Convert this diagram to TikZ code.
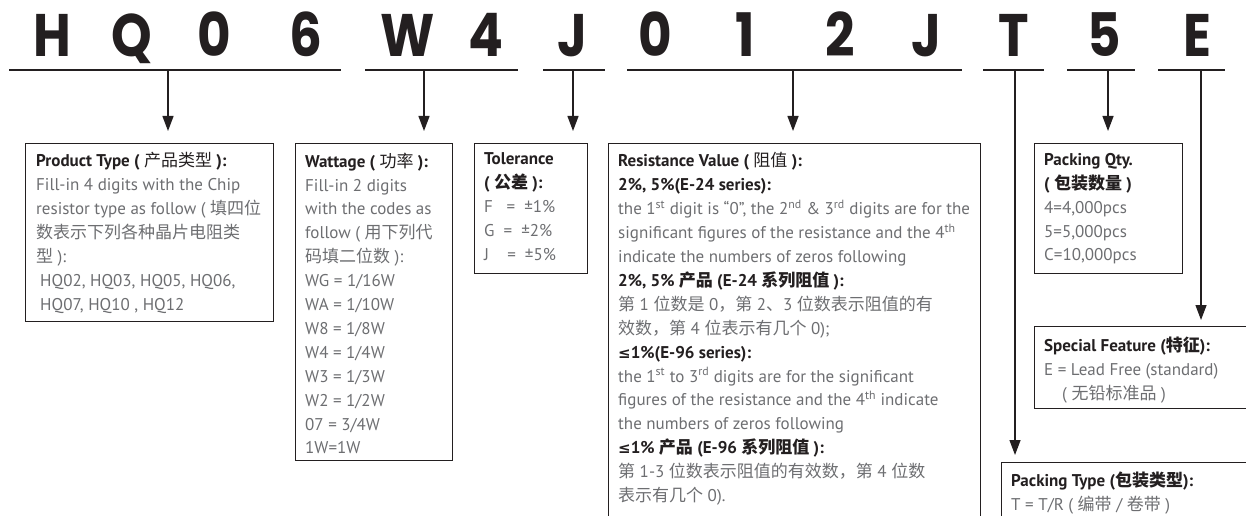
\documentclass[tikz,border=0pt]{standalone}
\usepackage{fontspec}
\setmainfont{PT Sans}
\newfontfamily\cjk{Noto Sans CJK SC}
\newfontfamily\symf{DejaVu Sans}
\newfontfamily\bigfont{Poppins}
\usetikzlibrary{arrows.meta,calc}
\definecolor{ink}{HTML}{231F20}
\definecolor{bodygray}{HTML}{6D6E71}
\newcommand\hdr[1]{{\color{ink}\bfseries #1}}
\newcommand\zh[1]{{\cjk #1}}
\newcommand\zhl[1]{{\cjk\mdseries #1}}
\newcommand\lesym{{\symf\fontsize{15}{15}\selectfont ≤}}
\newcommand\sups[1]{\textsuperscript{#1}}
\begin{document}
\begin{tikzpicture}[x=1pt,y=-1pt,
  boxnode/.style={draw=ink, line width=1.2pt, inner sep=0, anchor=north west},
  txt/.style={anchor=north west, inner sep=0, align=left, font=\fontsize{17}{23.9}\selectfont, text=bodygray},
  bigch/.style={font=\bigfont\bfseries\fontsize{60}{60}\selectfont, text=ink, anchor=base, inner sep=0, xscale=0.86, transform shape},
  uline/.style={line width=2pt, draw=ink},
  arr/.style={line width=1.3pt, draw=ink, -{Triangle[length=15pt,width=11pt]}}]
\useasboundingbox (0,0) rectangle (1246,516);
% big characters
\foreach \c/\x [count=\i] in {H/52,Q/132,0/214,6/306,W/408,4/486,J/572,0/655,1/745,2/840,J/926,T/1014,5/1104,E/1197}
  \node[bigch] (L\i) at (\x,57) {\c};
% underlines
\coordinate (u1a) at (9,70);    \coordinate (u1b) at (341,70);  \coordinate (u1) at (168,70);
\coordinate (u2a) at (365,70);  \coordinate (u2b) at (518,70);  \coordinate (u2) at (424,70);
\coordinate (u3a) at (543,70);  \coordinate (u3b) at (605,70);  \coordinate (u3) at (573,70);
\coordinate (u4a) at (627,70);  \coordinate (u4b) at (962,70);  \coordinate (u4) at (793,70);
\coordinate (u5a) at (983,70);  \coordinate (u5b) at (1044,70); \coordinate (u5) at (1015,70);
\coordinate (u6a) at (1067,70); \coordinate (u6b) at (1135,70); \coordinate (u6) at (1108,70);
\coordinate (u7a) at (1158,70); \coordinate (u7b) at (1225,70); \coordinate (u7) at (1201,70);
\foreach \i in {1,...,7} \draw[uline] (u\i a) -- (u\i b);
% boxes
\node[boxnode, minimum width=248, minimum height=178] (pt) at (25,143) {};
\node[boxnode, minimum width=157, minimum height=317] (wt) at (295,143) {};
\node[boxnode, minimum width=113, minimum height=130] (tol) at (474,143) {};
\node[boxnode, minimum width=372, minimum height=385] (rv) at (608,143) {};
\node[boxnode, minimum width=148, minimum height=130] (pq) at (1034,143) {};
\node[boxnode, minimum width=225, minimum height=82] (sf) at (1034,326) {};
\node[boxnode, minimum width=255, minimum height=65] (ptp) at (1001,462) {};
% arrows
\draw[arr] (u1) -- ($(u1 |- pt.north)+(0,-12)$);
\draw[arr] (u2) -- ($(u2 |- wt.north)+(0,-12)$);
\draw[arr] (u3) -- ($(u3 |- tol.north)+(0,-12)$);
\draw[arr] (u4) -- ($(u4 |- rv.north)+(0,-12)$);
\draw[arr] (u6) -- ($(u6 |- pq.north)+(0,-12)$);
\draw[arr] (u7) -- ($(u7 |- sf.north)+(0,-6)$);
\draw[arr] (u5) -- ($(u5 |- ptp.north)+(0,-7)$);
% texts
\node[txt] (ptT) at (36,152.5) {\hdr{Product Type ( \zhl{产品类型} ):}\\
Fill-in 4 digits with the Chip\\
resistor type as follow ( \zh{填四位}\\
\zh{数表示下列各种晶片电阻类}\\
\zh{型} ):\\
\hspace*{4pt}HQ02, HQ03, HQ05, HQ06,\\
\hspace*{4pt}HQ07, HQ10 , HQ12};
\node[txt] (wtT) at (305,152.5) {\hdr{Wattage ( \zhl{功率} ):}\\
Fill-in 2 digits\\
with the codes as\\
follow ( \zh{用下列代}\\
\zh{码填二位数} ):\\
WG = 1/16W\\
WA = 1/10W\\
W8 = 1/8W\\
W4 = 1/4W\\
W3 = 1/3W\\
W2 = 1/2W\\
07 = 3/4W\\
1W=1W};
\node[txt] (tolT) at (484,152.5) {\hdr{Tolerance}\\
\hdr{( \zh{公差} ):}\\
F\ \ \ =\ \ ±1\%\\
G\ \ =\ \ ±2\%\\
J\ \ \ \ =\ \ ±5\%};
\node[txt] (rvT) at (618,152.5) {\hdr{Resistance Value ( \zhl{阻值} ):}\\
\hdr{2\%, 5\%(E-24 series):}\\
the 1\sups{st} digit is “0”, the 2\sups{nd} \& 3\sups{rd} digits are for the\\
significant figures of the resistance and the 4\sups{th}\\
indicate the numbers of zeros following\\
\hdr{2\%, 5\% \zh{产品} (E-24 \zh{系列阻值} ):}\\
\zh{第} 1 \zh{位数是} 0\zh{，第} 2\zh{、}3 \zh{位数表示阻值的有}\\
\zh{效数，第} 4 \zh{位表示有几个} 0);\\
\hdr{\lesym 1\%(E-96 series):}\\
the 1\sups{st} to 3\sups{rd} digits are for the significant\\
figures of the resistance and the 4\sups{th} indicate\\
the numbers of zeros following\\
\hdr{\lesym 1\% \zh{产品} (E-96 \zh{系列阻值} ):}\\
\zh{第} 1-3 \zh{位数表示阻值的有效数，第} 4 \zh{位数}\\
\zh{表示有几个} 0).};
\node[txt] (pqT) at (1044,153) {\hdr{Packing Qty.}\\
\hdr{( \zh{包装数量} )}\\
4=4,000pcs\\
5=5,000pcs\\
C=10,000pcs};
\node[txt] (sfT) at (1044,337) {\hdr{Special Feature (\zh{特征}):}\\
E = Lead Free (standard)\\
\hspace*{18pt}( \zh{无铅标准品} )};
\node[txt] (ptpT) at (1011,472) {\hdr{Packing Type (\zh{包装类型}):}\\
T = T/R ( \zh{编带} / \zh{卷带} )};
\end{tikzpicture}
\end{document}
